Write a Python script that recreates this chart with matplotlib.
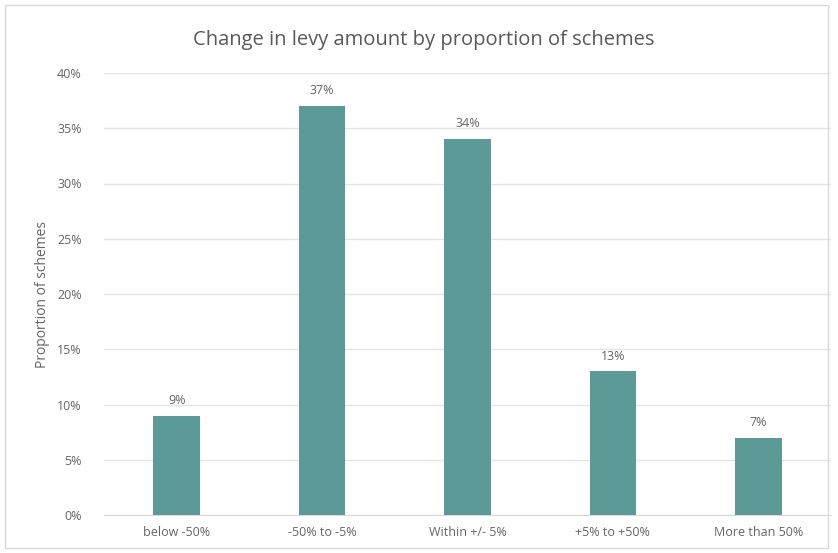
import matplotlib
matplotlib.use("Agg")
import matplotlib.pyplot as plt
from matplotlib.patches import Rectangle
from matplotlib.ticker import FuncFormatter

categories = ["below -50%", "-50% to -5%", "Within +/- 5%", "+5% to +50%", "More than 50%"]
values = [9, 37, 34, 13, 7]
yticks = [0, 5, 10, 15, 20, 25, 30, 35, 40]

BAR = "#5b9a97"
TXT = "#666666"
GRID = "#e4e4e4"

plt.rcParams["font.family"] = ["Open Sans", "DejaVu Sans"]

fig = plt.figure(figsize=(8.38, 5.53), dpi=100)
fig.patches.append(Rectangle((5 / 838, 5 / 553), 823 / 838, 543 / 553,
                             transform=fig.transFigure, fill=False,
                             edgecolor="#d9d9d9", linewidth=1.0))

ax = fig.add_axes([104 / 838, 38 / 553, 727 / 838, 442 / 553])
x = range(len(categories))
bars = ax.bar(x, values, width=0.32, color=BAR, zorder=3)
for b, v in zip(bars, values):
    ax.text(b.get_x() + b.get_width() / 2, v + 0.8, f"{v}%",
            ha="center", va="bottom", fontsize=9, color=TXT)

ax.set_xlim(-0.5, len(categories) - 0.5)
ax.set_ylim(0, 40)
ax.set_yticks(yticks)
ax.yaxis.set_major_formatter(FuncFormatter(lambda v, _: f"{v:.0f}%"))
ax.set_xticks(list(x))
ax.set_xticklabels(categories)
ax.tick_params(axis="both", length=0, labelsize=9, colors=TXT)
ax.tick_params(axis="y", pad=16)
ax.tick_params(axis="x", pad=8)
ax.grid(axis="y", color=GRID, linewidth=1.0, zorder=0)
for s in ["top", "right", "left"]:
    ax.spines[s].set_visible(False)
ax.spines["bottom"].set_color("#d9d9d9")
ax.set_ylabel("Proportion of schemes", fontsize=10, color=TXT)
ax.yaxis.set_label_coords(-54 / 727, 0.5)

fig.text(424 / 838, 1 - 40 / 553, "Change in levy amount by proportion of schemes",
         ha="center", va="center", fontsize=14.5, color="#595959")

fig.savefig("out.png", dpi=100)
